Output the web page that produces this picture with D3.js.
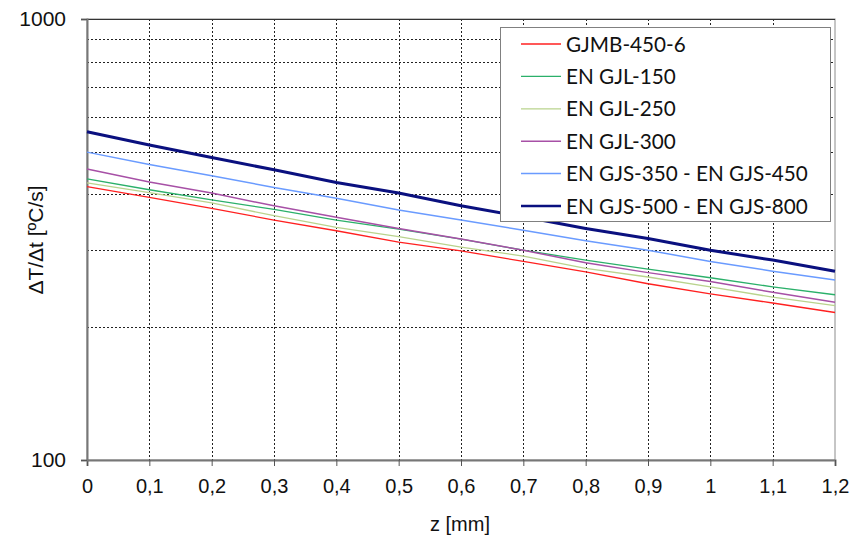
<!DOCTYPE html>
<html>
<head>
<meta charset="utf-8">
<script src="https://cdn.jsdelivr.net/npm/d3@7"></script>
<style>
  html, body { margin: 0; padding: 0; background: #fff; }
  svg { display: block; }
  text { font-family: "Liberation Sans", Arial, sans-serif; }
  .legend text { font-family: Lato, "Open Sans", sans-serif; }
</style>
</head>
<body>
<svg id="chart" width="850" height="537"></svg>
<script>
// Cooling-rate data: depth z [mm] vs ΔT/Δt [ºC/s]
const zValues = [0, 0.1, 0.2, 0.3, 0.4, 0.5, 0.6, 0.7, 0.8, 0.9, 1.0, 1.1, 1.2];

const seriesNames = [
  "GJMB-450-6",
  "EN GJL-150",
  "EN GJL-250",
  "EN GJL-300",
  "EN GJS-350 - EN GJS-450",
  "EN GJS-500 - EN GJS-800"
];

const gjmb450 = [417, 394, 372, 350, 331, 312, 298, 282, 267, 251, 238, 227, 216];
const gjl150  = [434, 410, 389, 370, 350, 334, 317, 299, 284, 271, 259, 247, 237];
const gjl250  = [425, 404, 383, 358, 337, 321, 304, 290, 272, 260, 247, 234, 224];
const gjl300  = [457, 427, 403, 377, 355, 335, 317, 299, 280, 266, 254, 240, 228];
const gjs350  = [499, 468, 441, 415, 392, 369, 350, 332, 314, 299, 282, 268, 256];
const gjs500  = [555, 518, 485, 455, 426, 403, 377, 356, 335, 318, 299, 284, 268];

const seriesValues = [gjmb450, gjl150, gjl250, gjl300, gjs350, gjs500];

const xTicks = [0, 0.1, 0.2, 0.3, 0.4, 0.5, 0.6, 0.7, 0.8, 0.9, 1, 1.1, 1.2];
const yLabelTicks = [100, 1000];
const yGridTicks = [200, 300, 400, 500, 600, 700, 800, 900];

const colors = ["#ff2020", "#2bb06a", "#b9d38d", "#a750a6", "#6a9bff", "#0a107f"];
const widths = [1.3, 1.3, 1.3, 1.5, 1.5, 3];

const svg = d3.select("#chart");
const plotLeft = 87, plotRight = 835, plotTop = 19, plotBottom = 460;

const x = d3.scaleLinear().domain([0, 1.2]).range([plotLeft, plotRight]);
const y = d3.scaleLog().domain([100, 1000]).range([plotBottom, plotTop]);

// Frame
svg.append("rect")
  .attr("x", plotLeft).attr("y", plotTop)
  .attr("width", plotRight - plotLeft).attr("height", plotBottom - plotTop)
  .attr("fill", "#fff").attr("stroke", "#8c8c8c").attr("stroke-width", 1);

// Dashed grid
const grid = svg.append("g").attr("stroke", "#222").attr("stroke-width", 1)
  .attr("stroke-dasharray", "2,2").attr("shape-rendering", "crispEdges");
grid.selectAll("line.v").data(xTicks.slice(1, -1)).join("line")
  .attr("x1", d => Math.round(x(d)) + 0.5).attr("x2", d => Math.round(x(d)) + 0.5)
  .attr("y1", plotTop).attr("y2", plotBottom);
grid.selectAll("line.h").data(yGridTicks).join("line")
  .attr("y1", d => Math.round(y(d)) + 0.5).attr("y2", d => Math.round(y(d)) + 0.5)
  .attr("x1", plotLeft).attr("x2", plotRight);

// Top border
svg.append("line").attr("x1", plotLeft).attr("x2", plotRight)
  .attr("y1", plotTop + 0.5).attr("y2", plotTop + 0.5)
  .attr("stroke", "#333").attr("stroke-width", 1);

// Axes
const xAxis = d3.axisBottom(x).tickValues(xTicks).tickSize(6).tickPadding(13)
  .tickFormat(d => String(+d.toFixed(1)).replace(".", ","));
const gx = svg.append("g").attr("transform", `translate(0,${plotBottom})`).call(xAxis);
gx.select(".domain").attr("stroke", "#777").attr("stroke-width", 2);
gx.selectAll(".tick line").attr("stroke", "#555");
gx.selectAll("text").attr("font-size", 20).attr("fill", "#111");

const yAxis = d3.axisLeft(y).tickValues(yLabelTicks).tickSize(6).tickPadding(15)
  .tickFormat(d3.format("d"));
const gy = svg.append("g").attr("transform", `translate(${plotLeft},0)`).call(yAxis);
gy.select(".domain").attr("stroke", "#777").attr("stroke-width", 2);
gy.selectAll(".tick line").attr("stroke", "#555");
gy.selectAll("text").attr("font-size", 21).attr("fill", "#111");

// Series lines
const line = d3.line().x((d, i) => x(zValues[i])).y(d => y(d));
svg.append("g").selectAll("path").data(seriesValues).join("path")
  .attr("d", d => line(d))
  .attr("fill", "none")
  .attr("stroke", (d, i) => colors[i])
  .attr("stroke-width", (d, i) => widths[i])
  .attr("stroke-linejoin", "round");

// Axis titles
svg.append("text").attr("x", 460).attr("y", 531).attr("text-anchor", "middle")
  .attr("font-size", 20).attr("fill", "#111").text("z [mm]");
svg.append("text").attr("transform", "translate(43,240) rotate(-90)")
  .attr("text-anchor", "middle").attr("font-size", 21).attr("fill", "#111")
  .text("ΔT/Δt [ºC/s]");

// Legend
const lg = svg.append("g").attr("class", "legend");
lg.append("rect").attr("x", 500.5).attr("y", 27.5).attr("width", 330).attr("height", 194)
  .attr("fill", "#fff").attr("stroke", "#808080").attr("stroke-width", 1);
const rows = lg.selectAll("g.item").data(seriesNames).join("g")
  .attr("transform", (d, i) => `translate(0,${44 + i * 32.4})`);
rows.append("line").attr("x1", 521).attr("x2", 561).attr("y1", 0).attr("y2", 0)
  .attr("stroke", (d, i) => colors[i]).attr("stroke-width", (d, i) => Math.min(widths[i], 2.5));
rows.append("text").attr("x", 566).attr("y", 7.5).attr("font-size", 20.7).attr("fill", "#111")
  .text(d => d);
</script>
</body>
</html>
